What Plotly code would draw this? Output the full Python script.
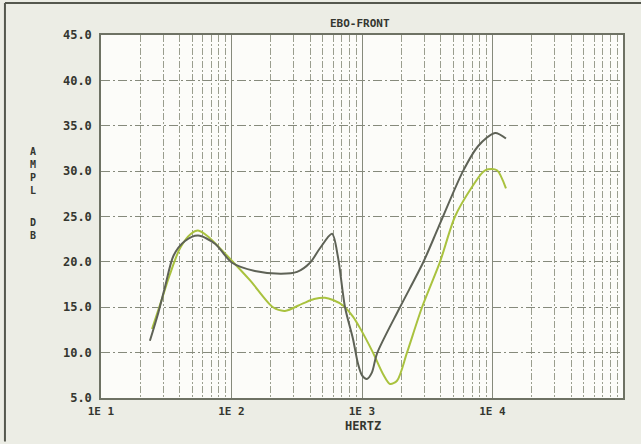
import plotly.graph_objects as go

# Data (frequency in Hz, amplitude in dB)
dark_freq = [23.7, 27.5, 30.9, 36.0, 44.0, 55.4, 74.8, 101, 151, 240, 318, 400, 476, 589, 655, 741, 853, 931, 1000, 1091, 1190, 1303, 1955, 2934, 3850, 5944, 7800, 10450, 12680]
dark_db = [11.3, 14.4, 17.2, 20.7, 22.3, 22.9, 22.0, 19.9, 19.0, 18.7, 18.9, 19.9, 21.5, 23.1, 20.5, 15.0, 11.5, 8.8, 7.5, 7.1, 7.8, 9.9, 15.0, 19.9, 23.8, 30.0, 32.8, 34.2, 33.6]

green_freq = [24.6, 29.0, 33.5, 40.3, 49.0, 55.4, 66.0, 101, 140, 208, 257, 350, 430, 520, 600, 715, 850, 966, 1214, 1448, 1640, 1855, 2212, 2884, 3960, 5163, 7000, 8457, 9240, 10820, 12680]
green_db = [12.6, 15.7, 18.5, 21.5, 23.1, 23.45, 22.8, 20.1, 17.9, 15.0, 14.6, 15.4, 15.9, 16.05, 15.8, 15.2, 14.0, 12.7, 10.0, 7.65, 6.55, 6.9, 10.0, 15.0, 20.0, 25.0, 28.3, 29.9, 30.2, 30.1, 28.1]

x_tickvals = [10, 100, 1000, 10000]
x_ticktext = ["1E 1", "1E 2", "1E 3", "1E 4"]
y_tickvals = [5, 10, 15, 20, 25, 30, 35, 40, 45]
y_ticktext = ["5.0", "10.0", "15.0", "20.0", "25.0", "30.0", "35.0", "40.0", "45.0"]

FONT = "DejaVu Sans Mono"
TXT = "#34362f"

fig = go.Figure()
fig.add_trace(go.Scatter(x=green_freq, y=green_db, mode="lines",
                         line=dict(color="#a9c23e", width=2, shape="spline", smoothing=0.8),
                         showlegend=False))
fig.add_trace(go.Scatter(x=dark_freq, y=dark_db, mode="lines",
                         line=dict(color="#5e6256", width=2, shape="spline", smoothing=0.8),
                         showlegend=False))

fig.update_layout(
    width=641, height=444,
    margin=dict(l=101, r=18, t=35, b=46),
    paper_bgcolor="#ecede5",
    plot_bgcolor="#fcfcf9",
    font=dict(family=FONT, size=10, color=TXT),
    xaxis=dict(
        type="log", range=[1, 5],
        tickvals=x_tickvals, ticktext=x_ticktext,
        showgrid=True, gridcolor="#868a7c", gridwidth=1.2,
        minor=dict(dtick="D1", showgrid=True, gridcolor="#9a9e8e", gridwidth=1,
                   griddash="7px,2px,2px,2px"),
        showline=True, linecolor="#6e7264", linewidth=1.5, mirror=True,
        ticks="", ticklabelstandoff=2,
        tickfont=dict(family=FONT, size=11, color=TXT, weight="bold"),
        zeroline=False,
    ),
    yaxis=dict(
        range=[5, 45],
        tickvals=y_tickvals, ticktext=y_ticktext,
        showgrid=True, gridcolor="#868a7c", gridwidth=1.3, griddash="9px,3px,2px,3px",
        showline=True, linecolor="#6e7264", linewidth=1.5, mirror=True,
        ticks="", ticklabelstandoff=5,
        tickfont=dict(family=FONT, size=12, color=TXT, weight="bold"),
        zeroline=False,
    ),
    annotations=[
        dict(text="EBO-FRONT", xref="paper", yref="paper", x=0.497, y=1.0, yshift=3,
             showarrow=False, font=dict(family=FONT, size=11, color=TXT, weight="bold"),
             xanchor="center", yanchor="bottom"),
        dict(text="HERTZ", xref="paper", yref="paper", x=0.502, y=0, yshift=-19,
             showarrow=False, font=dict(family=FONT, size=12, color=TXT, weight="bold"),
             xanchor="center", yanchor="top"),
        dict(text="A<br>M<br>P<br>L", xref="paper", yref="paper", x=0, xshift=-68, y=0.625,
             showarrow=False, font=dict(family=FONT, size=10, color=TXT, weight="bold"),
             xanchor="center", yanchor="middle"),
        dict(text="D<br>B", xref="paper", yref="paper", x=0, xshift=-68, y=0.466,
             showarrow=False, font=dict(family=FONT, size=10, color=TXT, weight="bold"),
             xanchor="center", yanchor="middle"),
    ],
    shapes=[
        dict(type="line", xref="paper", yref="paper", x0=-0.184, x1=1.04, y0=1.088, y1=1.088,
             line=dict(color="#55584e", width=2)),
        dict(type="line", xref="paper", yref="paper", x0=-0.184, x1=-0.184, y0=1.088, y1=-0.12,
             line=dict(color="#55584e", width=2)),
    ],
)

fig.write_html("out.html", config={"displayModeBar": False},
               post_script="document.body.style.margin='0';")
